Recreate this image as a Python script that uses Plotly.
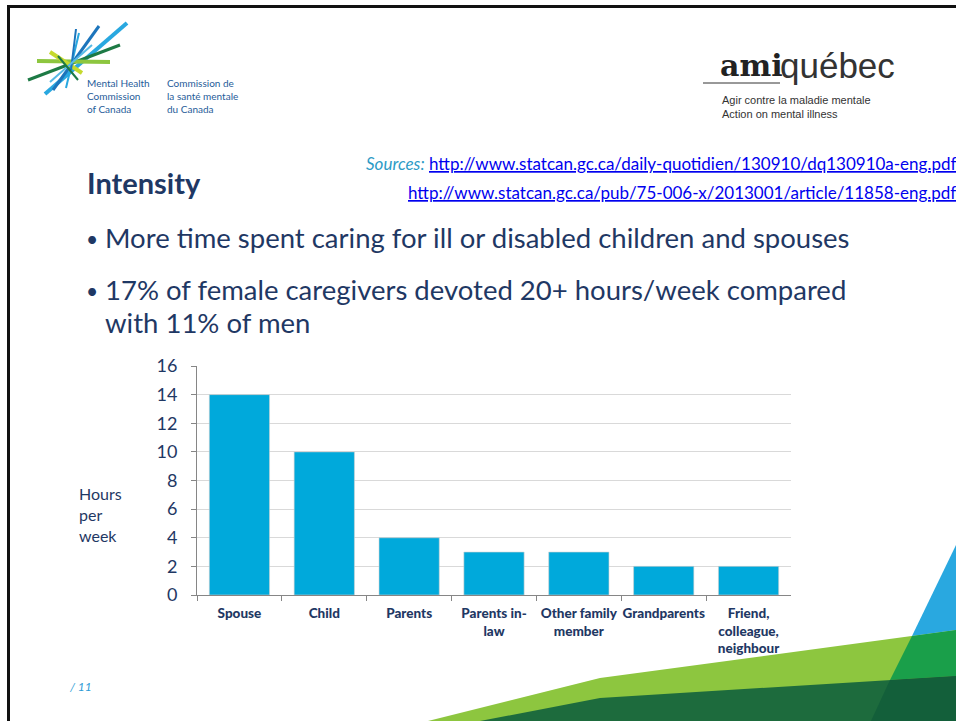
import plotly.graph_objects as go

W, H = 956, 721

categories = ["Spouse", "Child", "Parents", "Parents in-law", "Other family member",
              "Grandparents", "Friend, colleague, neighbour"]
tick_labels = ["Spouse", "Child", "Parents", "Parents in-<br>law", "Other family<br>member",
               "Grandparents", "Friend,<br>colleague,<br>neighbour"]
hours_per_week = [14, 10, 4, 3, 3, 2, 2]
y_ticks = [0, 2, 4, 6, 8, 10, 12, 14, 16]

NAVY = "#1F3864"
FONT = "Lato"


def px(x):
    return x / W


def py(y):
    return 1 - y / H


def path(points):
    return "M " + " L ".join(f"{px(x):.5f},{py(y):.5f}" for x, y in points) + " Z"


fig = go.Figure()
fig.add_trace(go.Bar(
    x=categories, y=hours_per_week,
    marker=dict(color="#00A9DB", line=dict(color="#D0D0D0", width=0.6)),
    width=0.71, hoverinfo="x+y",
))

shapes = []
# frame
shapes.append(dict(type="rect", xref="paper", yref="paper", x0=px(7), x1=px(956), y0=py(5), y1=py(8),
                   fillcolor="#111111", line=dict(width=0), layer="above"))
shapes.append(dict(type="rect", xref="paper", yref="paper", x0=px(7), x1=px(10), y0=py(5), y1=py(721),
                   fillcolor="#111111", line=dict(width=0), layer="above"))

# decorative corner
LG, DG, BL, MG, DG2 = "#8DC63F", "#1D6B3D", "#29A8E0", "#1A9F4A", "#135F3A"
shapes.append(dict(type="path", xref="paper", yref="paper", layer="below",
                   path=path([(428, 721), (600, 678), (956, 630), (956, 721)]),
                   fillcolor=LG, line=dict(width=0)))
shapes.append(dict(type="path", xref="paper", yref="paper", layer="below",
                   path=path([(480, 721), (600, 698), (956, 676), (956, 721)]),
                   fillcolor=DG, line=dict(width=0)))
shapes.append(dict(type="path", xref="paper", yref="paper", layer="below",
                   path=path([(956, 545), (912, 636), (956, 630)]),
                   fillcolor=BL, line=dict(width=0)))
shapes.append(dict(type="path", xref="paper", yref="paper", layer="below",
                   path=path([(912, 636), (890, 680), (956, 676), (956, 630)]),
                   fillcolor=MG, line=dict(width=0)))
shapes.append(dict(type="path", xref="paper", yref="paper", layer="below",
                   path=path([(890, 680), (871, 721), (956, 721), (956, 676)]),
                   fillcolor=DG2, line=dict(width=0)))

# MHCC starburst logo
burst = [
    ((127, 23), (45, 94), "#29A8E0", 4),
    ((99, 26), (53, 90), "#1C75BC", 3),
    ((120, 45), (28, 80), "#1D7A45", 3),
    ((110, 62), (37, 61), "#8DC63F", 4),
    ((50, 52), (82, 73), "#C5D92D", 4),
    ((79, 33), (66, 88), "#29A8E0", 2),
    ((76, 29), (71, 70), "#1C75BC", 2),
    ((92, 45), (50, 82), "#55B9E6", 2),
    ((58, 56), (78, 80), "#1D7A45", 2),
]
for (x0, y0), (x1, y1), c, w in burst:
    shapes.append(dict(type="line", xref="paper", yref="paper",
                       x0=px(x0), y0=py(y0), x1=px(x1), y1=py(y1),
                       line=dict(color=c, width=w)))
# amiquebec underline
shapes.append(dict(type="line", xref="paper", yref="paper", layer="above",
                   x0=px(703), x1=px(780), y0=py(83), y1=py(83),
                   line=dict(color="#333333", width=1)))

ann = []


def text(x, y, s, size, color, xanchor="left", family=FONT, yanchor="middle", align="left"):
    ann.append(dict(x=px(x), y=py(y), xref="paper", yref="paper", text=s, showarrow=False,
                    xanchor=xanchor, yanchor=yanchor, align=align,
                    font=dict(size=size, color=color, family=family)))


# MHCC text
text(85, 96, "Mental Health<br>Commission<br>of Canada", 10, "#1F5C99")
text(165, 96, "Commission de<br>la santé mentale<br>du Canada", 10, "#1F5C99")

# amiquebec
text(718, 66, "<b>ami</b>", 30, "#222222", family="DejaVu Serif")
text(778, 66, "québec", 35, "#333333", family="Liberation Sans")
text(720, 107, "Agir contre la maladie mentale<br>Action on mental illness", 11, "#333333",
     family="Liberation Sans")

# title
text(85, 182, "<b>Intensity</b>", 29, NAVY)

# sources
text(958, 163, "<i><span style='color:#2E9BC6'>Sources:</span></i> "
     "<u><span style='color:#0000EE'>http://www.statcan.gc.ca/daily-quotidien/130910/dq130910a-eng.pdf</span></u>",
     17, "#0000EE", xanchor="right")
text(958, 192, "<u>http://www.statcan.gc.ca/pub/75-006-x/2013001/article/11858-eng.pdf</u>",
     17, "#0000EE", xanchor="right")

# bullets
text(84, 238, "•", 21, NAVY)
text(103, 237, "More time spent caring for ill or disabled children and spouses", 27.5, NAVY)
text(84, 290, "•", 21, NAVY)
text(103, 289, "17% of female caregivers devoted 20+ hours/week compared", 27.5, NAVY)
text(103, 322, "with 11% of men", 27.5, NAVY)

# y title
text(77, 514, "Hours<br>per<br>week", 16, NAVY)

# page number
text(67, 686, "<i>/ 11</i>", 12, "#2E9BD6")

fig.update_layout(
    width=W, height=H, autosize=False,
    margin=dict(l=0, r=0, t=0, b=0, pad=0, autoexpand=False),
    paper_bgcolor="white", plot_bgcolor="white",
    showlegend=False, bargap=0.29,
    shapes=shapes, annotations=ann,
    font=dict(family=FONT, color=NAVY),
    xaxis=dict(domain=[px(197), px(791)], showline=True, linecolor="#868686", linewidth=1,
               ticks="outside", ticklen=5, tickcolor="#868686", tickson="boundaries",
               tickmode="array", tickvals=categories, ticktext=tick_labels,
               tickfont=dict(size=13.5, color=NAVY, family=FONT + " Black"), tickangle=0,
               ticklabelstandoff=6, automargin=False,
               showgrid=False, fixedrange=True),
    yaxis=dict(domain=[py(595), py(366)], range=[0, 16], tickvals=y_ticks,
               showline=True, linecolor="#868686", linewidth=1,
               ticks="outside", ticklen=5, tickcolor="#868686",
               gridcolor="#D9D9D9", gridwidth=1, ticklabelstandoff=10, automargin=False,
               tickfont=dict(size=18, color=NAVY, family=FONT), fixedrange=True),
)

fig.write_html("out.html", config=dict(displayModeBar=False))
